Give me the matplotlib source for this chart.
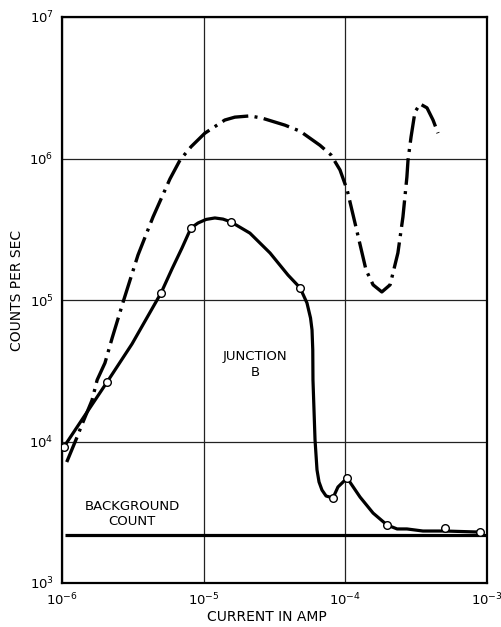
import matplotlib
matplotlib.use("Agg")
import matplotlib.pyplot as plt

# ---- data ----
# measured points (open circles)
meas_x = [1.03e-6, 2.08e-6, 5.0e-6, 8.15e-6, 1.56e-5, 4.79e-5, 8.18e-5, 1.03e-4, 1.97e-4, 5.05e-4, 8.93e-4]
meas_y = [9.1e3, 2.63e4, 1.12e5, 3.23e5, 3.56e5, 1.22e5, 3.99e3, 5.52e3, 2.57e3, 2.45e3, 2.29e3]

# solid curve traced through the points
solid_x = [1.03e-6, 1.38e-6, 2.08e-6, 3.12e-6, 5.0e-6, 5.98e-6, 7.03e-6, 8.14e-6, 9.12e-6,
           1.04e-5, 1.20e-5, 1.37e-5, 1.56e-5, 2.12e-5, 2.94e-5, 3.94e-5, 4.79e-5, 5.36e-5,
           5.68e-5, 5.82e-5, 5.89e-5, 5.91e-5, 6.11e-5, 6.31e-5, 6.52e-5, 6.84e-5, 7.31e-5,
           8.18e-5, 8.87e-5, 1.03e-4, 1.27e-4, 1.57e-4, 1.97e-4, 2.32e-4, 2.72e-4, 3.53e-4,
           5.05e-4, 8.93e-4]
solid_y = [9.14e3, 1.42e4, 2.63e4, 4.89e4, 1.12e5, 1.66e5, 2.33e5, 3.23e5, 3.50e5,
           3.71e5, 3.80e5, 3.73e5, 3.56e5, 2.97e5, 2.15e5, 1.50e5, 1.22e5, 9.53e4,
           7.46e4, 6.14e4, 4.44e4, 2.72e4, 1.03e4, 6.30e3, 5.18e3, 4.54e3, 4.12e3,
           3.99e3, 4.77e3, 5.52e3, 4.05e3, 3.12e3, 2.57e3, 2.41e3, 2.41e3, 2.33e3,
           2.33e3, 2.29e3]

# dash-dot curve
dd_x = [1.08e-6, 1.28e-6, 1.38e-6, 1.63e-6, 1.77e-6, 2.01e-6, 2.26e-6, 2.70e-6, 3.02e-6,
        3.44e-6, 4.39e-6, 5.78e-6, 6.81e-6, 8.14e-6, 1.02e-5, 1.41e-5, 1.66e-5, 2.12e-5,
        2.58e-5, 3.75e-5, 4.79e-5, 6.62e-5, 7.92e-5, 9.17e-5, 1.03e-4, 1.17e-4, 1.40e-4,
        1.57e-4, 1.81e-4, 2.07e-4, 2.35e-4, 2.55e-4, 2.72e-4, 2.77e-4, 2.91e-4, 3.10e-4,
        3.37e-4, 3.77e-4, 4.16e-4, 4.51e-4]
dd_y = [7.16e3, 1.08e4, 1.31e4, 1.96e4, 2.72e4, 3.59e4, 5.39e4, 9.68e4, 1.38e5,
        2.08e5, 3.86e5, 7.17e5, 9.75e5, 1.21e6, 1.51e6, 1.87e6, 1.96e6, 2.00e6,
        1.93e6, 1.72e6, 1.56e6, 1.24e6, 1.06e6, 8.30e5, 5.99e5, 3.50e5, 1.63e5,
        1.28e5, 1.14e5, 1.28e5, 2.15e5, 3.86e5, 7.40e5, 9.75e5, 1.42e6, 2.13e6,
        2.43e6, 2.28e6, 1.87e6, 1.51e6]

# background count
bg_x = [1.05e-6, 1.0e-3]
bg_y = [2.18e3, 2.18e3]

xticks = [1e-6, 1e-5, 1e-4, 1e-3]
xtick_labels = [r"$10^{-6}$", r"$10^{-5}$", r"$10^{-4}$", r"$10^{-3}$"]
yticks = [1e3, 1e4, 1e5, 1e6, 1e7]
ytick_labels = [r"$10^{3}$", r"$10^{4}$", r"$10^{5}$", r"$10^{6}$", r"$10^{7}$"]

# ---- figure ----
fig = plt.figure(figsize=(5.02, 6.27), dpi=100)
ax = fig.add_axes([62/502, 1-583/627, (487-62)/502, (583-17)/627])
ax.set_xscale("log")
ax.set_yscale("log")
ax.set_xlim(1e-6, 1e-3)
ax.set_ylim(1e3, 1e7)

ax.set_xticks(xticks)
ax.set_xticklabels(xtick_labels)
ax.set_yticks(yticks)
ax.set_yticklabels(ytick_labels)
ax.minorticks_off()
ax.tick_params(length=0, labelsize=9.5, pad=6)
ax.grid(True, which="major", color="#222222", linewidth=0.9)
for s in ax.spines.values():
    s.set_linewidth(1.6)

ax.plot(bg_x, bg_y, color="black", linewidth=2.3, solid_capstyle="butt", zorder=3)
ax.plot(dd_x, dd_y, color="black", linewidth=2.4,
        dashes=(8.0, 1.9, 0.9, 1.9), zorder=3)
ax.plot(solid_x, solid_y, color="black", linewidth=2.3, solid_joinstyle="round", zorder=4)
ax.plot(meas_x, meas_y, linestyle="none", marker="o", markersize=5.5,
        markerfacecolor="white", markeredgecolor="black", markeredgewidth=1.0, zorder=5)

ax.text(2.3e-5, 3.5e4, "JUNCTION\nB", ha="center", va="center", fontsize=9.5,
        linespacing=1.3)
ax.text(3.12e-6, 3.05e3, "BACKGROUND\nCOUNT", ha="center", va="center", fontsize=9.5,
        linespacing=1.2)

fig.text(267/502, 1-617/627, "CURRENT IN AMP", ha="center", va="center", fontsize=10)
fig.text(17/502, 1-290/627, "COUNTS PER SEC", ha="center", va="center", fontsize=10,
         rotation=90)

fig.savefig("out.png", dpi=100, facecolor="white")
